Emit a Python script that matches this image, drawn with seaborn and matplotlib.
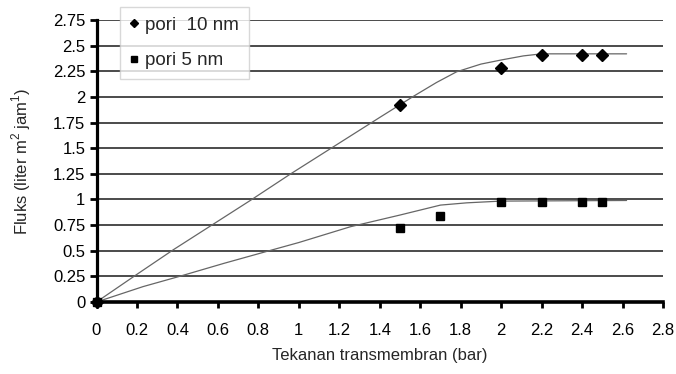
import matplotlib
matplotlib.use("Agg")
import matplotlib.pyplot as plt
import seaborn as sns
import pandas as pd

# Measured flux at each transmembrane pressure
pressure_10nm = [0.0, 1.5, 2.0, 2.2, 2.4, 2.5]
flux_10nm = [0.0, 1.92, 2.28, 2.41, 2.41, 2.41]
pressure_5nm = [0.0, 1.5, 1.7, 2.0, 2.2, 2.4, 2.5]
flux_5nm = [0.0, 0.725, 0.84, 0.98, 0.98, 0.98, 0.98]

# Trend curves drawn through the measurements
trend_x_10nm = [0.0, 0.2, 0.38, 0.57, 0.76, 0.96, 1.16, 1.40, 1.57, 1.68, 1.78,
                1.90, 2.0, 2.11, 2.2, 2.62]
trend_y_10nm = [0.0, 0.27, 0.51, 0.75, 0.99, 1.25, 1.50, 1.80, 2.01, 2.14, 2.245,
                2.32, 2.36, 2.40, 2.42, 2.42]
trend_x_5nm = [0.0, 0.23, 0.405, 0.63, 0.89, 1.0, 1.255, 1.50, 1.70, 1.83, 2.0, 2.62]
trend_y_5nm = [0.0, 0.15, 0.247, 0.377, 0.52, 0.58, 0.734, 0.848, 0.945, 0.967, 0.984, 0.99]

series_labels = ["pori  10 nm", "pori 5 nm"]
x_ticks = [0, 0.2, 0.4, 0.6, 0.8, 1, 1.2, 1.4, 1.6, 1.8, 2, 2.2, 2.4, 2.6, 2.8]
x_tick_labels = ["0", "0.2", "0.4", "0.6", "0.8", "1", "1.2", "1.4", "1.6", "1.8",
                 "2", "2.2", "2.4", "2.6", "2.8"]
y_ticks = [0, 0.25, 0.5, 0.75, 1, 1.25, 1.5, 1.75, 2, 2.25, 2.5, 2.75]
y_tick_labels = ["0", "0.25", "0.5", "0.75", "1", "1.25", "1.5", "1.75", "2",
                 "2.25", "2.5", "2.75"]

sns.set_style("white")
plt.rcParams["font.family"] = ["Liberation Sans", "DejaVu Sans"]
plt.rcParams["mathtext.fontset"] = "custom"
plt.rcParams["mathtext.rm"] = "Liberation Sans"

fig = plt.figure(figsize=(6.76, 3.74), dpi=100)
W, H = 676, 374
left, right, top, bottom = 96.5, 663, 20, 302
ax = fig.add_axes([left / W, 1 - bottom / H, (right - left) / W, (bottom - top) / H])

trend10 = pd.DataFrame({"x": trend_x_10nm, "y": trend_y_10nm})
trend5 = pd.DataFrame({"x": trend_x_5nm, "y": trend_y_5nm})
pts10 = pd.DataFrame({"x": pressure_10nm, "y": flux_10nm})
pts5 = pd.DataFrame({"x": pressure_5nm, "y": flux_5nm})

# horizontal grid
for yv in y_ticks[1:]:
    ax.axhline(yv, color="#1a1a1a", lw=1.1, zorder=1)

sns.lineplot(data=trend10, x="x", y="y", ax=ax, color="#666666", lw=0.9,
             sort=False, zorder=2, legend=False)
sns.lineplot(data=trend5, x="x", y="y", ax=ax, color="#666666", lw=0.9,
             sort=False, zorder=2, legend=False)

ax.plot(pts10["x"], pts10["y"], ls="none", marker="D", ms=5.8, color="black",
        mec="black", zorder=4, label=series_labels[0], clip_on=False)
ax.plot(pts5["x"], pts5["y"], ls="none", marker="s", ms=6.0, color="black",
        mec="black", zorder=4, label=series_labels[1], clip_on=False)

ax.set_xlim(0, 2.8)
ax.set_ylim(0, 2.75)
ax.set_xticks(x_ticks)
ax.set_xticklabels(x_tick_labels)
ax.set_yticks(y_ticks)
ax.set_yticklabels(y_tick_labels)

for side in ["top", "right"]:
    ax.spines[side].set_visible(False)
ax.spines["left"].set_linewidth(2.3)
ax.spines["bottom"].set_linewidth(2.6)
ax.spines["left"].set_color("black")
ax.spines["bottom"].set_color("black")

ax.tick_params(axis="y", direction="out", length=5, width=2.0, pad=3,
               labelsize=12, colors="black", left=True)
ax.tick_params(axis="x", direction="out", length=4, width=2.0, pad=11,
               labelsize=12, colors="black", bottom=True)

ax.set_xlabel("Tekanan transmembran (bar)", fontsize=12, labelpad=7)
ax.set_ylabel("Fluks (liter m$^{2}$ jam$^{1}$)", fontsize=12, labelpad=14)

leg = ax.legend(loc="upper left", bbox_to_anchor=(0.0415, 1.046),
                borderaxespad=0, fontsize=13.5, frameon=True, fancybox=False,
                handlelength=0.5, handletextpad=0.35, labelspacing=1.0,
                borderpad=0.5, markerscale=0.75)
leg.get_frame().set_edgecolor("#cfcfcf")
leg.get_frame().set_linewidth(1.0)
leg.get_frame().set_facecolor("white")
leg.set_zorder(5)

fig.savefig("out.png", dpi=100)
